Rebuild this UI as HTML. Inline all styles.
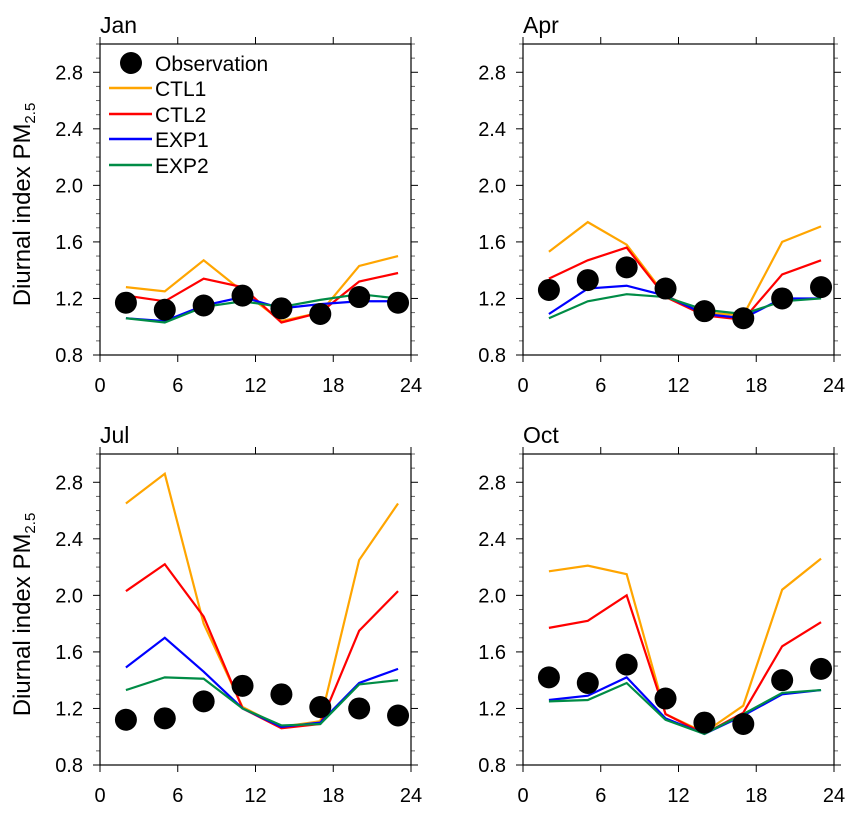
<!DOCTYPE html>
<html><head><meta charset="utf-8"><style>
body{margin:0;background:#fff;}
svg{display:block;font-family:"Liberation Sans",sans-serif;}
</style></head><body>
<svg id="chart" width="857" height="817"></svg>
<script>
const hours = [2,5,8,11,14,17,20,23];
const months = ["Jan","Apr","Jul","Oct"];
const seriesNames = ["CTL1","CTL2","EXP1","EXP2"];
const seriesColors = ["#ffa500","#ff0000","#0000ff","#008c46"];
const obsJan = [1.17,1.12,1.15,1.22,1.13,1.09,1.21,1.17];
const ctl1Jan = [1.28,1.25,1.47,1.25,1.04,1.10,1.43,1.50];
const ctl2Jan = [1.22,1.18,1.34,1.28,1.03,1.10,1.32,1.38];
const exp1Jan = [1.06,1.04,1.15,1.21,1.13,1.16,1.18,1.18];
const exp2Jan = [1.06,1.03,1.14,1.18,1.14,1.19,1.23,1.20];
const obsApr = [1.26,1.33,1.42,1.27,1.11,1.06,1.20,1.28];
const ctl1Apr = [1.53,1.74,1.58,1.22,1.10,1.08,1.60,1.71];
const ctl2Apr = [1.34,1.47,1.56,1.21,1.08,1.05,1.37,1.47];
const exp1Apr = [1.09,1.27,1.29,1.22,1.09,1.06,1.20,1.20];
const exp2Apr = [1.06,1.18,1.23,1.21,1.12,1.09,1.18,1.20];
const obsJul = [1.12,1.13,1.25,1.36,1.30,1.21,1.20,1.15];
const ctl1Jul = [2.65,2.86,1.80,1.21,1.07,1.11,2.25,2.65];
const ctl2Jul = [2.03,2.22,1.85,1.20,1.06,1.09,1.75,2.03];
const exp1Jul = [1.49,1.70,1.46,1.20,1.07,1.10,1.38,1.48];
const exp2Jul = [1.33,1.42,1.41,1.20,1.08,1.09,1.37,1.40];
const obsOct = [1.42,1.38,1.51,1.27,1.10,1.09,1.40,1.48];
const ctl1Oct = [2.17,2.21,2.15,1.16,1.03,1.22,2.04,2.26];
const ctl2Oct = [1.77,1.82,2.00,1.16,1.02,1.17,1.64,1.81];
const exp1Oct = [1.26,1.29,1.42,1.13,1.02,1.15,1.30,1.33];
const exp2Oct = [1.25,1.26,1.38,1.12,1.02,1.16,1.31,1.33];
const xTicks = [0,6,12,18,24];
const yTicks = [0.8,1.2,1.6,2.0,2.4,2.8];
const obsByMonth = [obsJan,obsApr,obsJul,obsOct];
const modelByMonth = [[ctl1Jan,ctl2Jan,exp1Jan,exp2Jan],[ctl1Apr,ctl2Apr,exp1Apr,exp2Apr],[ctl1Jul,ctl2Jul,exp1Jul,exp2Jul],[ctl1Oct,ctl2Oct,exp1Oct,exp2Oct]];

const NS="http://www.w3.org/2000/svg";
const svg=document.getElementById('chart');
function mk(tag,attrs,parent){const e=document.createElementNS(NS,tag);for(const k in attrs)e.setAttribute(k,attrs[k]);(parent||svg).appendChild(e);return e;}
const panels=[{x:100,y:44},{x:523,y:44},{x:100,y:454},{x:523,y:454}];
const W=311,H=311;
panels.forEach((p,i)=>{
  const g=mk('g',{});
  
  
  const sx=v=>p.x+v/24*W;
  const sy=v=>p.y+H-(v-0.8)/2.2*H;
  const t=mk('text',{x:p.x,y:p.y-11,'font-size':23},g);t.textContent=months[i];
  
  
  for(let k=0;k<=22;k++){
    const v=0.8+k*0.1, yy=sy(v), major=(k%4===0), L=major?7:4;
    mk('line',{x1:p.x-L,x2:p.x,y1:yy,y2:yy,stroke:major?'#000':'#666','stroke-width':1},g);
    mk('line',{x1:p.x+W,x2:p.x+W+L,y1:yy,y2:yy,stroke:major?'#000':'#666','stroke-width':1},g);
  }
  yTicks.forEach(v=>{const tt=mk('text',{x:p.x-17,y:sy(v)+7,'font-size':20,'text-anchor':'end'},g);tt.textContent=v.toFixed(1);
    
    });
  xTicks.forEach(v=>{const xx=sx(v);
    mk('line',{x1:xx,x2:xx,y1:p.y+H,y2:p.y+H+7,stroke:'#000'},g);
    mk('line',{x1:xx,x2:xx,y1:p.y-7,y2:p.y,stroke:'#000'},g);
    const tt=mk('text',{x:xx,y:p.y+H+37,'font-size':20,'text-anchor':'middle'},g);tt.textContent=v;
    
    });
  mk('rect',{x:p.x,y:p.y,width:W,height:H,fill:'none',stroke:'#000','stroke-width':1.2},g);
  if(i%2===0){
    const cy=p.y+H/2+5;
    const yl=mk('text',{x:0,y:0,'font-size':24,'text-anchor':'middle',transform:`translate(30,${cy}) rotate(-90)`},g);
    yl.innerHTML='Diurnal index PM<tspan font-size="15" dy="5">2.5</tspan>';
    
    
  }
  modelByMonth[i].forEach((arr,s)=>{
    const pl=mk('polyline',{points:arr.map((v,j)=>sx(hours[j])+','+sy(v)).join(' '),fill:'none',stroke:seriesColors[s],'stroke-width':2.2},g);
    
    
  });
  obsByMonth[i].forEach((v,j)=>{
    const c=mk('circle',{cx:sx(hours[j]),cy:sy(v),r:11,fill:'#000'},g);
    
    
  });
});
const lg=mk('g',{});


mk('circle',{cx:131,cy:63,r:11,fill:'#000'},lg);
const lt=mk('text',{x:155,y:71,'font-size':21},lg);lt.textContent='Observation';
const ly=[88,114,139,165];
seriesNames.forEach((n,s)=>{
  mk('line',{x1:109,x2:152,y1:ly[s],y2:ly[s],stroke:seriesColors[s],'stroke-width':2.5},lg);
  const tx=mk('text',{x:155,y:ly[s]+8,'font-size':21},lg);tx.textContent=n;
  
  
});
</script>
</body></html>
